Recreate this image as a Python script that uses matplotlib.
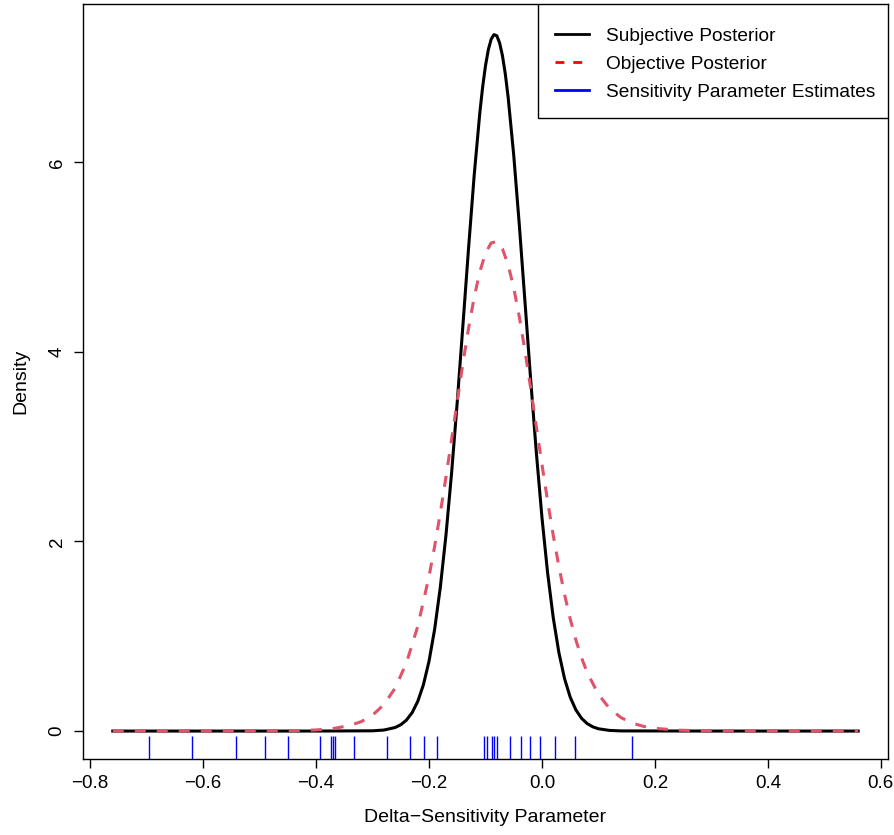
import matplotlib
matplotlib.use('Agg')
import matplotlib.pyplot as plt
from matplotlib.lines import Line2D
from matplotlib.patches import Rectangle

plt.rcParams['font.family'] = ['Liberation Sans', 'DejaVu Sans']

# subjective posterior
subj_x = [-0.76, -0.60, -0.40, -0.30, -0.28, -0.26, -0.25, -0.24, -0.23, -0.22, -0.21,
          -0.20, -0.19, -0.18, -0.17, -0.16, -0.15, -0.14, -0.13, -0.12, -0.11,
          -0.105, -0.10, -0.095, -0.09, -0.085, -0.08, -0.075, -0.07, -0.065, -0.06,
          -0.05, -0.04, -0.03, -0.02, -0.01, 0.00, 0.01, 0.02, 0.03, 0.04, 0.05,
          0.06, 0.07, 0.08, 0.09, 0.10, 0.12, 0.14, 0.30, 0.56]
subj_y = [0.0, 0.0, 0.0, 0.0026, 0.0105, 0.0373, 0.0668, 0.1155, 0.193, 0.312, 0.487,
          0.736, 1.075, 1.516, 2.066, 2.724, 3.472, 4.278, 5.093, 5.864, 6.525,
          6.796, 7.019, 7.187, 7.298, 7.347, 7.335, 7.260, 7.126, 6.936, 6.693,
          6.076, 5.332, 4.523, 3.709, 2.941, 2.253, 1.669, 1.195, 0.827, 0.553, 0.358,
          0.224, 0.135, 0.079, 0.0446, 0.024, 0.0065, 0.0015, 0.0, 0.0]

# objective posterior
obj_x = [-0.76, -0.70, -0.64, -0.58, -0.52, -0.48, -0.44, -0.40, -0.37, -0.34, -0.32,
         -0.30, -0.28, -0.26, -0.24, -0.22, -0.20, -0.19, -0.18, -0.17, -0.16, -0.15,
         -0.14, -0.13, -0.12, -0.11, -0.10, -0.09, -0.08, -0.07, -0.06, -0.05, -0.04,
         -0.03, -0.02, -0.01, 0.00, 0.01, 0.02, 0.03, 0.04, 0.05, 0.06, 0.07, 0.08,
         0.10, 0.12, 0.14, 0.16, 0.18, 0.20, 0.24, 0.28, 0.32, 0.38, 0.44, 0.50, 0.56]
obj_y = [0.0, 0.00001, 0.00003, 0.0001, 0.0005, 0.0014, 0.0040, 0.0116, 0.0262, 0.0586, 0.0996,
         0.168, 0.278, 0.453, 0.719, 1.104, 1.631, 1.949, 2.301, 2.680, 3.077, 3.481,
         3.877, 4.249, 4.577, 4.846, 5.040, 5.149, 5.165, 5.087, 4.921, 4.676, 4.366,
         4.007, 3.617, 3.214, 2.813, 2.426, 2.065, 1.735, 1.441, 1.183, 0.962, 0.775, 0.619,
         0.387, 0.236, 0.1414, 0.0837, 0.0491, 0.0287, 0.0097, 0.0033, 0.0012, 0.0003, 0.0001, 0.00004, 0.00002]

# sensitivity parameter estimates (rug)
estimates = [-0.696, -0.620, -0.541, -0.490, -0.450, -0.393, -0.374, -0.370, -0.367,
             -0.333, -0.274, -0.234, -0.209, -0.185, -0.102, -0.097, -0.088, -0.085,
             -0.079, -0.056, -0.037, -0.022, -0.003, 0.023, 0.058, 0.160]

legend_labels = ['Subjective Posterior', 'Objective Posterior',
                 'Sensitivity Parameter Estimates']

fig = plt.figure(figsize=(8.94, 8.35), dpi=100)
ax = fig.add_axes([0.0928, 0.091, 0.9005, 0.9042])

red = '#DF536B'
ax.plot(subj_x, subj_y, color='black', lw=2.2)
ax.plot(obj_x, obj_y, color=red, lw=2.2, dashes=[3.6, 3.6])
ax.vlines(estimates, 0, 0.03, color='blue', lw=1.0, transform=ax.get_xaxis_transform())

ax.set_xlim(-0.8128, 0.6128)
ax.set_ylim(-0.295, 7.67)
ax.set_xticks([-0.8, -0.6, -0.4, -0.2, 0.0, 0.2, 0.4, 0.6])
ax.set_xticklabels(['\u22120.8', '\u22120.6', '\u22120.4', '\u22120.2', '0.0', '0.2', '0.4', '0.6'])
ax.set_yticks([0, 2, 4, 6])
for lab in ax.get_yticklabels():
    lab.set_rotation(90)
    lab.set_va('center')
ax.tick_params(length=6.5, width=1, labelsize=13.5)
ax.tick_params(axis='x', pad=5)
ax.tick_params(axis='y', pad=6)
ax.set_xlabel('Delta\u2212Sensitivity Parameter', fontsize=14, labelpad=12)
ax.set_ylabel('Density', fontsize=14, labelpad=14)
for s in ax.spines.values():
    s.set_linewidth(1)

# legend box like R's topright legend
ax.add_patch(Rectangle((0.5652, 0.849), 0.4348, 0.151, transform=ax.transAxes,
                       facecolor='white', edgecolor='black', lw=1, zorder=5))
handles = [Line2D([], [], color='black', lw=2),
           Line2D([], [], color='red', lw=2, dashes=[3.2, 3.2]),
           Line2D([], [], color='blue', lw=2)]
leg = ax.legend(handles, legend_labels, loc='upper left', bbox_to_anchor=(0.5863, 0.969),
                borderaxespad=0, borderpad=0, frameon=False, fontsize=13.8,
                handlelength=1.8, handletextpad=0.87, labelspacing=0.55)
leg.set_zorder(6)

fig.savefig('out.png', dpi=100)
